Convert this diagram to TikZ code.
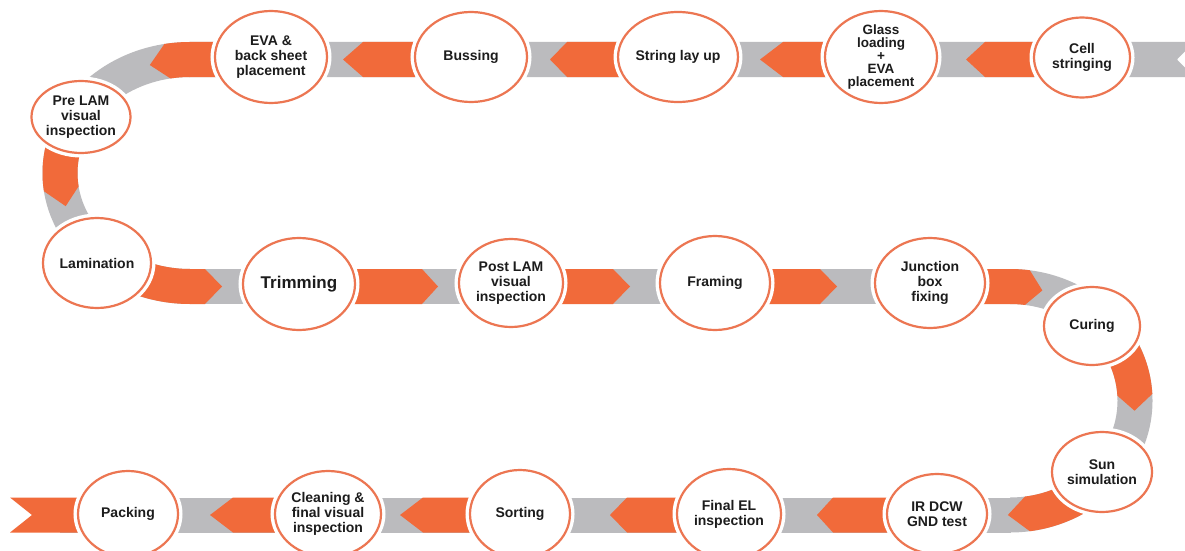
\documentclass[tikz,border=0pt]{standalone}
\usepackage{fontspec}
\setmainfont{Liberation Sans}
\usetikzlibrary{shapes.geometric}
\definecolor{orangeC}{RGB}{241,106,58}
\definecolor{ringC}{RGB}{236,118,82}
\definecolor{grayC}{RGB}{187,187,190}
\definecolor{textC}{RGB}{28,28,28}
% straight chevron: start x, shoulder x, tip x, centre y
\newcommand{\chev}[4]{\fill[orangeC] (#1,#4+17.5) -- (#2,#4+17.5) -- (#3,#4) -- (#2,#4-17.5) -- (#1,#4-17.5) -- cycle;}
% curved chevron: cx, cy, a, b, start angle, shoulder angle, tip angle
\newcommand{\cchev}[7]{%
  \pgfmathsetmacro{\oxr}{#3+17.5}\pgfmathsetmacro{\oyr}{#4+17.5}%
  \pgfmathsetmacro{\ixr}{#3-17.5}\pgfmathsetmacro{\iyr}{#4-17.5}%
  \fill[orangeC] ({#1+\oxr*cos(#5)},{#2+\oyr*sin(#5)})
    arc[start angle=#5,end angle=#6,x radius=\oxr,y radius=\oyr]
    -- ({#1+#3*cos(#7)},{#2+#4*sin(#7)})
    -- ({#1+\ixr*cos(#6)},{#2+\iyr*sin(#6)})
    arc[start angle=#6,end angle=#5,x radius=\ixr,y radius=\iyr] -- cycle;}
\tikzset{
  stage/.style={ellipse, draw=ringC, line width=2.2pt, fill=white, inner sep=0pt,
    align=center, text=textC, font=\fontsize{14}{15}\selectfont\bfseries,
    preaction={draw=white, line width=9pt}},
}
\begin{document}
\begin{tikzpicture}[x=1pt,y=1pt]
\useasboundingbox (0,0) rectangle (1185,-551);
\clip (0,0) rectangle (1185,-551);
\fill[white] (0,0) rectangle (1185,-551);
% ---------- gray band ----------
\fill[grayC] (189,-42) -- (1194,-42) -- (1177,-59.5) -- (1194,-77) -- (189,-77) -- cycle;
\fill[grayC] (190,-42) arc[start angle=90,end angle=270,x radius=147.5,y radius=131]
  -- (190,-269) arc[start angle=270,end angle=90,x radius=112.5,y radius=96] -- cycle;
\fill[grayC] (189,-269) rectangle (1011,-304);
\fill[grayC] (1010,-269) arc[start angle=90,end angle=-90,x radius=142.5,y radius=131.75]
  -- (1010,-497.5) arc[start angle=-90,end angle=90,x radius=107.5,y radius=96.75] -- cycle;
\fill[grayC] (60,-497.5) rectangle (1011,-532.5);
% ---------- orange chevrons ----------
% top row (leftward)
\chev{1034}{985}{966}{-59.5}
\chev{826}{783}{760}{-59.5}
\chev{623}{567}{550}{-59.5}
\chev{415}{363}{343}{-59.5}
% EVA -> Pre LAM (straight then curve)
\fill[orangeC] (225,-42) -- (190,-42)
  arc[start angle=90,end angle=100,x radius=147.5,y radius=131]
  -- ({190+130*cos(108)},{-173+113.5*sin(108)})
  -- ({190+112.5*cos(100)},{-173+96*sin(100)})
  arc[start angle=100,end angle=90,x radius=112.5,y radius=96] -- (225,-77) -- cycle;
% Pre LAM -> Lamination
\cchev{190}{-173}{130}{113.5}{140}{188}{197}
% Lamination -> Trimming (curve then straight)
\fill[orangeC] ({190+147.5*cos(240)},{-173+131*sin(240)})
  arc[start angle=240,end angle=270,x radius=147.5,y radius=131]
  -- (205,-304) -- (222,-286.5) -- (205,-269) -- (190,-269)
  arc[start angle=270,end angle=240,x radius=112.5,y radius=96] -- cycle;
% middle row (rightward)
\chev{340}{422}{438}{-286.5}
\chev{555}{613}{630}{-286.5}
\chev{760}{820}{837}{-286.5}
% Junction -> Curing (straight then curve)
\fill[orangeC] (975,-269) -- (1010,-269)
  arc[start angle=90,end angle=82,x radius=142.5,y radius=131.75]
  -- ({1010+125*cos(75)},{-400.75+114.25*sin(75)})
  -- ({1010+107.5*cos(82)},{-400.75+96.75*sin(82)})
  arc[start angle=82,end angle=90,x radius=107.5,y radius=96.75] -- (975,-304) -- cycle;
% Curing -> Sun simulation
\cchev{1010}{-400.75}{125}{114.25}{35}{3}{-5}
% Sun simulation -> IR DCW
\cchev{1010}{-400.75}{125}{114.25}{-45}{-82}{-91}
% bottom row (leftward)
\chev{887}{833}{817}{-515}
\chev{677}{627}{610}{-515}
\chev{470}{423}{400}{-515}
\chev{275}{233}{210}{-515}
\fill[orangeC] (10,-497.5) -- (85,-497.5) -- (85,-532.5) -- (10,-532.5) -- (32,-515) -- cycle;
% ---------- stages ----------
\node[stage, minimum width=112pt, minimum height=92pt] (eva) at (271,-57) {EVA \&\\back sheet\\placement};
\node[stage, minimum width=112pt, minimum height=90pt] (bus) at (471,-57) {Bussing};
\node[stage, minimum width=110pt, minimum height=90pt] (str) at (678,-57) {String lay up};
\node[stage, minimum width=112pt, minimum height=92pt, font=\fontsize{13.5}{12.8}\selectfont\bfseries] (gla) at (881,-57) {Glass\\loading\\+\\EVA\\placement};
\node[stage, minimum width=96pt, minimum height=80pt] (cel) at (1082,-57.5) {Cell\\stringing};
\node[stage, minimum width=98pt, minimum height=72pt] (pre) at (81,-117) {Pre LAM\\visual\\inspection};
\node[stage, minimum width=108pt, minimum height=90pt] (lam) at (97,-263) {Lamination};
\node[stage, minimum width=112pt, minimum height=92pt, font=\fontsize{17}{18}\selectfont\bfseries] (tri) at (299,-284) {Trimming};
\node[stage, minimum width=104pt, minimum height=88pt] (pos) at (511,-283) {Post LAM\\visual\\inspection};
\node[stage, minimum width=110pt, minimum height=94pt] (fra) at (715,-283) {Framing};
\node[stage, minimum width=110pt, minimum height=90pt] (jun) at (930,-283) {Junction\\box\\fixing};
\node[stage, minimum width=96pt, minimum height=78pt] (cur) at (1092,-326) {Curing};
\node[stage, minimum width=100pt, minimum height=80pt] (sun) at (1102,-472) {Sun\\simulation};
\node[stage, minimum width=100pt, minimum height=80pt] (ird) at (937,-514) {IR DCW\\GND test};
\node[stage, minimum width=104pt, minimum height=90pt] (fel) at (729,-514) {Final EL\\inspection};
\node[stage, minimum width=100pt, minimum height=88pt] (sor) at (520,-514) {Sorting};
\node[stage, minimum width=106pt, minimum height=86pt] (cle) at (328,-514) {Cleaning \&\\final visual\\inspection};
\node[stage, minimum width=100pt, minimum height=86pt] (pac) at (128,-514) {Packing};
\end{tikzpicture}
\end{document}
